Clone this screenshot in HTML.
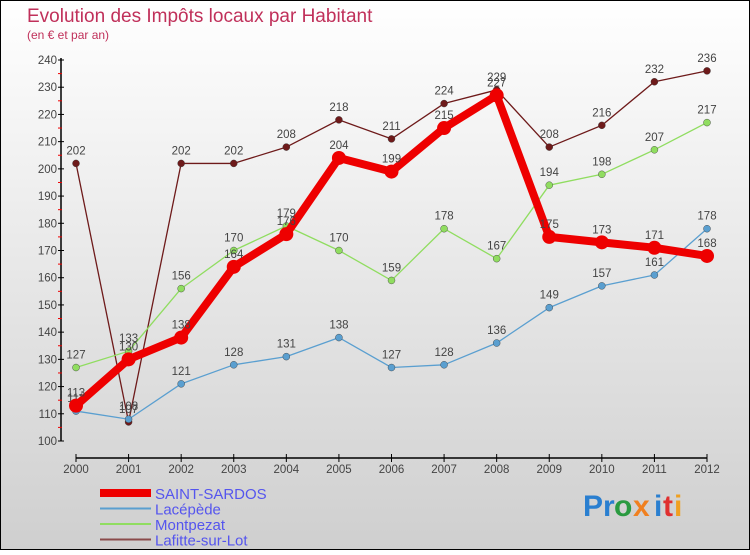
<!DOCTYPE html>
<html><head><meta charset="utf-8"><style>
body{margin:0}
#c{width:750px;height:550px;position:relative;font-family:"Liberation Sans",sans-serif}
</style></head><body>
<div id="c">
<svg id="s" width="750" height="550" xmlns="http://www.w3.org/2000/svg">
<defs><linearGradient id="bg" x1="0" y1="0" x2="0" y2="1"><stop offset="0" stop-color="#ffffff"/><stop offset="1" stop-color="#cfcfcf"/></linearGradient></defs>
<rect x="0.5" y="0.5" width="749" height="549" fill="url(#bg)" stroke="#000"/>
<text x="27" y="22" font-size="19" fill="#c0305a">Evolution des Impôts locaux par Habitant</text>
<text x="27" y="39" font-size="12" fill="#c0305a">(en € et par an)</text>
<g id="axes"></g><g id="series"></g><g id="legend"></g>
<g font-size="30" font-weight="bold">
<text x="583" y="516" fill="#2a7fd0">P</text><text x="603" y="516" fill="#2a7fd0">r</text><text x="614" y="516" fill="#2a9a40">o</text><text x="633" y="516" fill="#f08020">x</text><text x="654" y="516" fill="#2a7fd0">i</text><text x="663" y="516" fill="#e03030">t</text><text x="674" y="516" fill="#f0a020">i</text>
</g>
</svg></div>
<script>
const years=[2000,2001,2002,2003,2004,2005,2006,2007,2008,2009,2010,2011,2012];
const yTicks=[100,110,120,130,140,150,160,170,180,190,200,210,220,230,240];
const saintSardos=[113,130,138,164,176,204,199,215,227,175,173,171,168];
const lacepede=[111,108,121,128,131,138,127,128,136,149,157,161,178];
const montpezat=[127,133,156,170,179,170,159,178,167,194,198,207,217];
const lafitte=[202,107,202,202,208,218,211,224,229,208,216,232,236];
const NS="http://www.w3.org/2000/svg";
const xS=i=>76+i*(707-76)/12;
const yS=v=>441-(v-100)*(381/140);
function mk(t,a,p){const e=document.createElementNS(NS,t);for(const k in a)e.setAttribute(k,a[k]);p.appendChild(e);return e;}
const ax=document.getElementById('axes');
let e=mk('line',{x1:61,y1:58,x2:61,y2:441,stroke:'#000','stroke-width':1.5},ax);


e=mk('line',{x1:76,y1:458,x2:707,y2:458,stroke:'#000','stroke-width':1.5},ax);


yTicks.forEach((v,i)=>{
 mk('line',{x1:58,x2:64,y1:yS(v),y2:yS(v),stroke:'#000'},ax);
 if(i<yTicks.length-1)mk('line',{x1:58,x2:62,y1:yS(v+5),y2:yS(v+5),stroke:'#e00'},ax);
 const t=mk('text',{x:57,y:yS(v)+4,'font-size':11.5,fill:'#444','text-anchor':'end'},ax);t.textContent=v;
 
 
});
years.forEach((y,i)=>{
 mk('line',{x1:xS(i),x2:xS(i),y1:454,y2:462,stroke:'#000'},ax);
 const t=mk('text',{x:xS(i),y:466+7,'font-size':11.5,fill:'#444','text-anchor':'middle'},ax);t.textContent=y;
 
 
});
const sg=document.getElementById('series');
const defs=[
 {d:lafitte,c:'#6e1a1a',w:1.3,r:3.5,n:'lafitte-sur-lot'},
 {d:montpezat,c:'#90dd60',w:1.3,r:3.5,n:'montpezat'},
 {d:lacepede,c:'#5a9fd0',w:1.3,r:3.5,n:'lacepede'},
 {d:saintSardos,c:'#ee0000',w:8,r:7,n:'saint-sardos'}];
defs.forEach(s=>{
 const g=mk('g',{},sg);
 
 
 const l=mk('polyline',{points:s.d.map((v,i)=>xS(i)+','+yS(v)).join(' '),fill:'none',stroke:s.c,'stroke-width':s.w,'stroke-linejoin':'round'},g);
 
 
 s.d.forEach((v,i)=>{
  const c=mk('circle',{cx:xS(i),cy:yS(v),r:s.r,fill:s.c,stroke:s.r<5?'#333':'none','stroke-width':0.4},g);
  
  
  const t=mk('text',{x:xS(i),y:yS(v)-9,'font-size':11.5,fill:'#444','text-anchor':'middle'},g);t.textContent=v;
  
  
 });
});
const lg=document.getElementById('legend');
const items=[['SAINT-SARDOS','#ee0000',8],['Lacépède','#5a9fd0',2],['Montpezat','#90dd60',2],['Lafitte-sur-Lot','#8a4a4a',2]];
items.forEach((it,i)=>{
 const y=493+i*15.5;
 const g=mk('g',{},lg);
 
 
 mk('line',{x1:100,x2:151,y1:y,y2:y,stroke:it[1],'stroke-width':it[2]},g);
 const t=mk('text',{x:155,y:y+6,'font-size':15,fill:'#5555ee'},g);t.textContent=it[0];
});
</script>
</body></html>
